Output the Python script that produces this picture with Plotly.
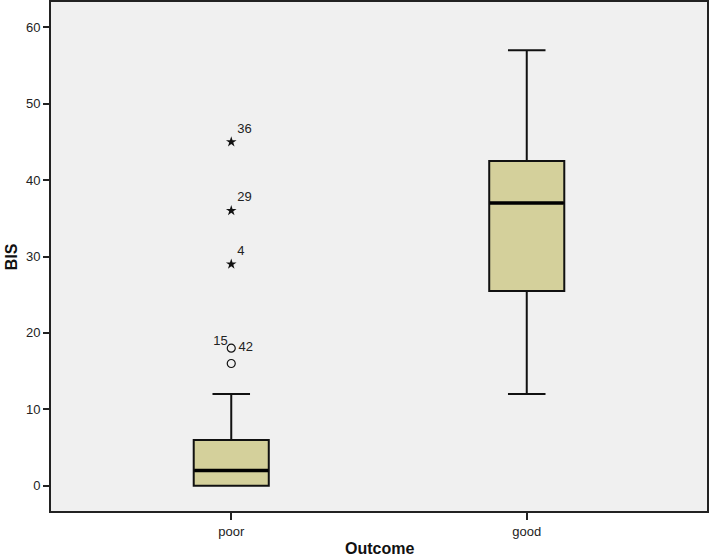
import plotly.graph_objects as go

categories = ["poor", "good"]
q1 = [0, 25.5]
median = [2, 37]
q3 = [6, 42.5]
lower_whisker = [0, 12]
upper_whisker = [12, 57]

# outliers (poor group)
mild_outliers_y = [18, 16]
extreme_outliers_y = [45, 36, 29]
extreme_labels = ["36", "29", "4"]
mild_label_15 = "15"
mild_label_42 = "42"

fill = "#d4d09b"
ink = "#111111"
FONT = "Arial, Liberation Sans, sans-serif"

fig = go.Figure()
fig.add_trace(go.Box(
    x=categories, q1=q1, median=median, q3=q3,
    lowerfence=lower_whisker, upperfence=upper_whisker,
    boxpoints=False, fillcolor=fill,
    line=dict(color=ink, width=2),
    width=0.254, whiskerwidth=0.5, showlegend=False, hoverinfo="skip",
))
# thicker median lines
for i, c in enumerate(categories):
    fig.add_trace(go.Scatter(
        x=[i - 0.125, i + 0.125], y=[median[i], median[i]],
        mode="lines", line=dict(color="black", width=3.5),
        showlegend=False, hoverinfo="skip", xaxis="x2",
    ))

fig.add_trace(go.Scatter(
    x=[categories[0]] * len(mild_outliers_y), y=mild_outliers_y,
    mode="markers", marker=dict(symbol="circle-open", size=8, color=ink, line=dict(width=1.2)),
    showlegend=False, hoverinfo="skip",
))
fig.add_trace(go.Scatter(
    x=[categories[0]] * len(extreme_outliers_y), y=extreme_outliers_y,
    mode="markers+text", marker=dict(symbol="star", size=8, color=ink),
    text=extreme_labels, textposition="top right",
    textfont=dict(family=FONT, size=13, color="#222"),
    showlegend=False, hoverinfo="skip",
))
fig.add_trace(go.Scatter(
    x=[categories[0]], y=[mild_outliers_y[0]],
    mode="text", text=[mild_label_15 + " "], textposition="top left",
    textfont=dict(family=FONT, size=13, color="#222"),
    showlegend=False, hoverinfo="skip",
))
fig.add_trace(go.Scatter(
    x=[categories[0]], y=[mild_outliers_y[0]],
    mode="text", text=["  " + mild_label_42], textposition="middle right",
    textfont=dict(family=FONT, size=13, color="#222"),
    showlegend=False, hoverinfo="skip",
))

fig.update_layout(
    width=709, height=560,
    margin=dict(l=51, r=2, t=2, b=49, autoexpand=False),
    paper_bgcolor="white", plot_bgcolor="#f0f0f0",
    font=dict(family=FONT, size=13, color="#222"),
    xaxis=dict(
        type="category", categoryorder="array", categoryarray=categories,
        range=[-0.61, 1.61], showgrid=False, zeroline=False, automargin=False,
        showline=True, linecolor="#222", linewidth=2, mirror=True,
        ticks="outside", ticklen=7, tickwidth=1.5, tickcolor="#222",
    ),
    xaxis2=dict(range=[-0.61, 1.61], overlaying="x", visible=False),
    yaxis=dict(
        range=[-3.3, 63.3], tickvals=[0, 10, 20, 30, 40, 50, 60],
        showgrid=False, zeroline=False, automargin=False,
        showline=True, linecolor="#222", linewidth=2, mirror=True,
        ticks="outside", ticklen=6, tickwidth=1.5, tickcolor="#222",
    ),
    annotations=[
        dict(text="<b>Outcome</b>", xref="paper", yref="paper", x=0.5, y=-0.073,
             xanchor="center", yanchor="middle", showarrow=False,
             font=dict(family=FONT, size=16, color="#111")),
        dict(text="<b>BIS</b>", xref="paper", yref="paper", x=-0.06, y=0.5,
             xanchor="center", yanchor="middle", showarrow=False, textangle=-90,
             font=dict(family=FONT, size=16, color="#111")),
    ],
)

fig.write_html(
    "out.html",
    config={"displayModeBar": False},
    post_script="document.body.style.margin='0';document.body.style.overflow='hidden';",
)
